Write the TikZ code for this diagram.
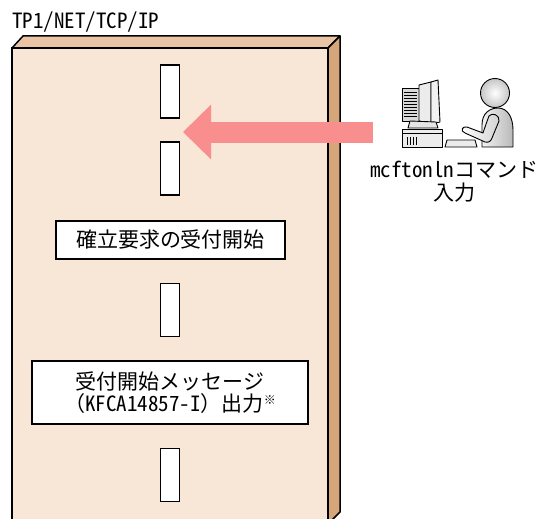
\documentclass[tikz,border=0pt]{standalone}
\usepackage{fontspec}
\setmainfont{Noto Sans CJK JP}
\newfontfamily\hwfont[RawFeature=+hwid]{Noto Sans CJK JP}
\usetikzlibrary{arrows.meta}

\definecolor{panelfront}{HTML}{F8E6D6}
\definecolor{paneltop}{HTML}{EAC5A5}
\definecolor{panelside}{HTML}{D5A67A}
\definecolor{cmdpink}{HTML}{F98E8E}
\newcommand{\jpsize}{\fontsize{21}{22}\selectfont}

\begin{document}
\begin{tikzpicture}[x=1pt,y=-1pt,
    slot/.style={draw,line width=1.3pt,fill=white,minimum width=19pt,minimum height=53pt,inner sep=0pt},
    stepbox/.style={draw,line width=1.3pt,fill=white,inner sep=0pt,align=center,font=\jpsize},
    label/.style={inner sep=0pt,align=center,font=\jpsize},
    cmdarrow/.style={draw=cmdpink,line width=21pt,-{Triangle[length=28pt,width=53pt]}},
    icon/.style={draw,line width=0.9pt,line join=round}]
    \useasboundingbox (0,0) rectangle (544,519);

    % Panel (cut at the bottom)
    \begin{scope}
        \clip (0,0) rectangle (544,519);
        \fill[panelfront] (12,530) -- (12,48) -- (328,48) -- (328,530) -- cycle;
        \draw[line width=1.5pt] (12,530) -- (12,48) -- (328,48) -- (328,530);
        \filldraw[fill=paneltop,line width=1.5pt,line join=round] (12,48) -- (23,36) -- (340,36) -- (328,48) -- cycle;
        \filldraw[fill=panelside,line width=1.5pt,line join=round] (328,48) -- (340,36) -- (340,512) -- (333,519) -- (328,530) -- cycle;
    \end{scope}
    \node[label,anchor=west] (title) at (12,22) {\hwfont TP1/NET/TCP/IP};

    % Steps
    \node[slot] (s1) at (170,91.5) {};
    \node[slot] (s2) at (170,168.5) {};
    \node[stepbox,minimum width=229pt,minimum height=38pt] (accept) at (170.5,240) {確立要求の受付開始};
    \node[slot] (s3) at (170,310) {};
    \node[stepbox,minimum width=276pt,minimum height=63pt] (msg) at (170,392.5)
        {受付開始メッセージ\\（{\hwfont KFCA14857-I}）出力{\fontsize{12}{12}\selectfont\raisebox{7pt}{※}}};
    \node[slot] (s4) at (170,475) {};

    % Command input
    \coordinate (cmdtail) at (373,132);
    \coordinate (gap) at (183,132);
    \draw[cmdarrow] (cmdtail) -- (gap);

    % Terminal
    \filldraw[icon,fill=gray!30] (402,88) rectangle (419,121);
    \foreach \y in {92,95,...,117} {
        \draw[line width=0.7pt] (404,\y) -- (417,\y);
    }
    \filldraw[icon,fill=gray!15] (419,85) -- (431,82) -- (431,124) -- (419,121) -- cycle;
    \filldraw[icon,fill=gray!10] (431,82) -- (438,80) -- (440,122) -- (431,124) -- cycle;
    \filldraw[icon,fill=gray!20] (410,121) -- (436,122) -- (438,128) -- (408,128) -- cycle;
    \filldraw[icon,fill=gray!15] (402,129) rectangle (442,147);
    \draw[line width=0.7pt] (402,133) -- (442,133);
    \foreach \x in {407,410,413,416} {
        \draw[line width=0.8pt] (\x,137) -- (\x,145);
    }
    \filldraw[icon,fill=gray!15] (447,140) -- (475,140) -- (477,147) -- (445,147) -- cycle;

    % Operator
    \shade[icon,inner color=white,outer color=gray!45] (495,93) circle (14.5);
    \shade[icon,left color=gray!10,right color=gray!55] (482,147) -- (482,125)
        .. controls (482,113) and (490,108) .. (498,108)
        .. controls (508,108) and (513,118) .. (513,130) -- (513,147) -- cycle;
    \shade[icon,left color=white,right color=gray!35] (489,116)
        .. controls (486,124) and (484,130) .. (483,133) -- (467,127)
        .. controls (462,126) and (460,131) .. (465,133) -- (485,142)
        .. controls (489,143) and (491,141) .. (492,138) -- (499,121)
        .. controls (500,115) and (492,112) .. (489,116) -- cycle;
    \node[label,font=\fontsize{21}{23}\selectfont] (cmd) at (454,181.5) {{\hwfont mcftonln}コマンド\\入力};
\end{tikzpicture}
\end{document}
